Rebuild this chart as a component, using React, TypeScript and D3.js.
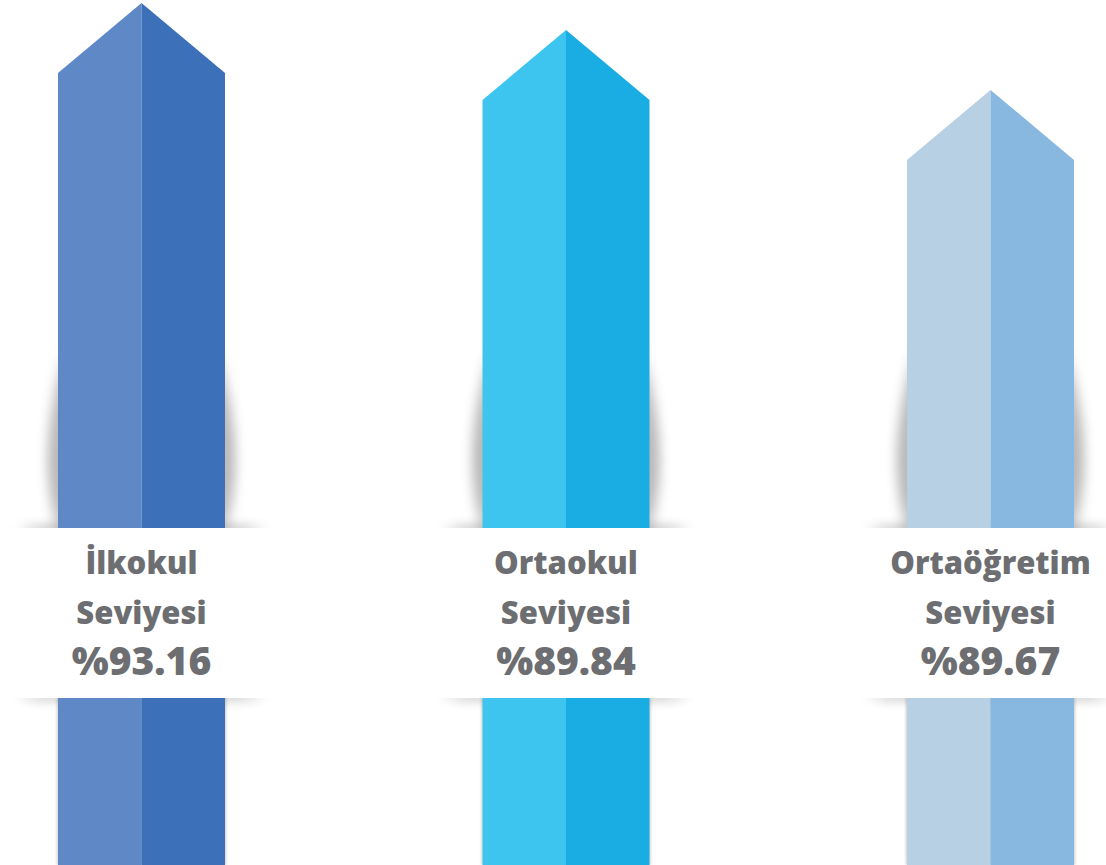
import React from 'react';
import * as d3 from 'd3';

// Okul seviyeleri ve oranları
const levels = ['İlkokul', 'Ortaokul', 'Ortaöğretim'];
const levelSuffix = ['Seviyesi', 'Seviyesi', 'Seviyesi'];
const rates = [93.16, 89.84, 89.67];
const lightColors = ['#5f88c6', '#3dc5f0', '#b8d0e4'];
const darkColors = ['#3c70b8', '#1aade3', '#88b8e0'];

const width = 1106;
const height = 865;
const barW = 167;
const roofDrop = 70;
const bandTop = 528;
const bandBottom = 698;

const App = () => {
    // Horizontal positions of bar centres
    const x = d3.scalePoint<string>().domain(levels).range([141.5, 990.5]);

    // Peak height: pictogram scale (not proportional), piecewise linear
    const peakY = d3.scaleLinear().domain([89.6, 89.9, 93.3]).range([114.7, 8.8, 2.75]);

    const textColor = '#6d6e71';

    return (
        <svg width={width} height={height} style={{ position: 'absolute', left: 0, top: 0, background: '#fff' }}>
            <defs>
                <filter id="blurSide" x="-100%" y="-50%" width="300%" height="200%">
                    <feGaussianBlur stdDeviation="6 14" />
                </filter>
                <filter id="blurBand" x="-30%" y="-200%" width="160%" height="500%">
                    <feGaussianBlur stdDeviation="10 5" />
                </filter>
                <filter id="blurEdge" x="-20%" y="-20%" width="140%" height="140%">
                    <feGaussianBlur stdDeviation="1.5" />
                </filter>
                <clipPath id="aboveBand">
                    <rect x={0} y={0} width={width} height={bandTop} />
                </clipPath>
                <clipPath id="belowBand">
                    <rect x={0} y={bandBottom} width={width} height={height - bandBottom} />
                </clipPath>
            </defs>

            {levels.map((lvl, i) => {
                const cx = x(lvl) as number;
                const x0 = cx - barW / 2;
                const x1 = cx + barW / 2;
                const top = peakY(rates[i]);
                const shoulder = top + roofDrop;

                const leftFace = `M${x0},${height} L${x0},${shoulder} L${cx},${top} L${cx},${height} Z`;
                const rightFace = `M${cx},${height} L${cx},${top} L${x1},${shoulder} L${x1},${height} Z`;

                const leftShadow = `M${x0 + 4},365 Q${x0 - 24},465 ${x0 + 2},${bandTop + 6} L${x0 + 20},${bandTop + 6} L${x0 + 20},365 Z`;
                const rightShadow = `M${x1 - 4},365 Q${x1 + 24},465 ${x1 - 2},${bandTop + 6} L${x1 - 20},${bandTop + 6} L${x1 - 20},365 Z`;

                return (
                    <g key={lvl}>
                        <g clipPath="url(#aboveBand)">
                            <path d={leftShadow} fill="#000" opacity={0.28} filter="url(#blurSide)" />
                            <path d={rightShadow} fill="#000" opacity={0.28} filter="url(#blurSide)" />
                            <rect x={x0 - 30} y={bandTop - 4} width={barW + 60} height={10} fill="#000" opacity={0.18} filter="url(#blurBand)" />
                        </g>
                        <g clipPath="url(#belowBand)">
                            <rect x={x0 - 30} y={bandBottom - 6} width={barW + 60} height={10} fill="#000" opacity={0.16} filter="url(#blurBand)" />
                            <rect x={x0 - 1} y={bandBottom} width={barW + 2} height={height - bandBottom} fill="#000" opacity={0.2} filter="url(#blurEdge)" />
                        </g>
                        <path d={leftFace} fill={lightColors[i]} />
                        <path d={rightFace} fill={darkColors[i]} />
                    </g>
                );
            })}

            <rect x={0} y={bandTop} width={width} height={bandBottom - bandTop} fill="#fff" />

            {levels.map((lvl, i) => {
                const cx = x(lvl) as number;
                return (
                    <g key={`t-${lvl}`} fill={textColor} fontFamily="'Open Sans', sans-serif" fontWeight={800} textAnchor="middle">
                        <text x={cx} y={574} fontSize={31}>{lvl}</text>
                        <text x={cx} y={624} fontSize={31}>{levelSuffix[i]}</text>
                        <text x={cx} y={675} fontSize={39}>{`%${rates[i].toFixed(2)}`}</text>
                    </g>
                );
            })}
        </svg>
    );
};

export default App;
